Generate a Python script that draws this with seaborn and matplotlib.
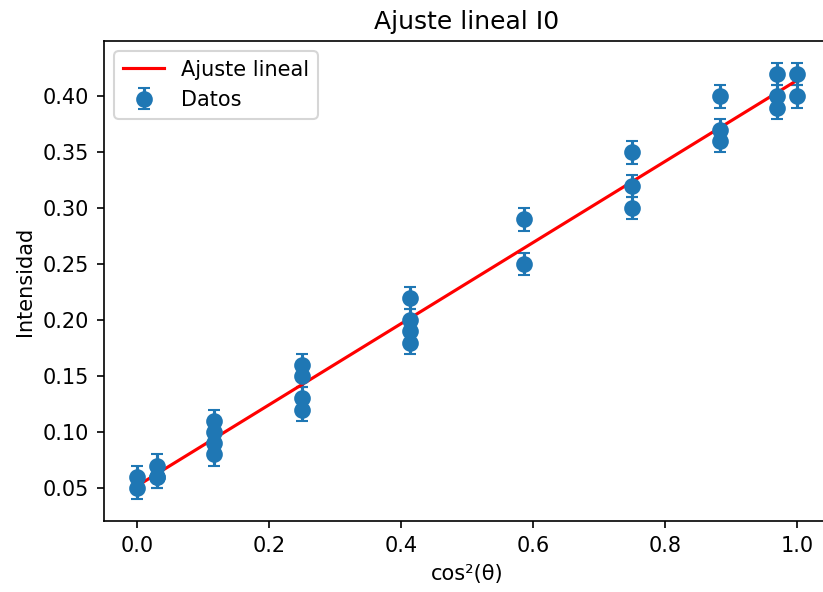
import matplotlib.pyplot as plt
import seaborn as sns
import numpy as np

# cos^2(theta) for each measurement and its intensity
cos2 = [0.0, 0.0, 0.0302, 0.0302, 0.0302,
        0.117, 0.117, 0.117, 0.117,
        0.25, 0.25, 0.25, 0.25,
        0.413, 0.413, 0.413, 0.413,
        0.587, 0.587,
        0.75, 0.75, 0.75,
        0.883, 0.883, 0.883,
        0.970, 0.970, 0.970,
        1.0, 1.0]
intensidad = [0.05, 0.06, 0.06, 0.07, 0.06,
              0.08, 0.09, 0.10, 0.11,
              0.12, 0.13, 0.15, 0.16,
              0.18, 0.19, 0.20, 0.22,
              0.25, 0.29,
              0.30, 0.32, 0.35,
              0.36, 0.37, 0.40,
              0.39, 0.40, 0.42,
              0.40, 0.42]
err = [0.01] * len(intensidad)

x = np.array(cos2)
y = np.array(intensidad)
m, b = np.polyfit(x, y, 1)  # linear fit
xfit = np.linspace(x.min(), x.max(), 50)

dpi = 150
fig, ax = plt.subplots(figsize=(823 / dpi, 592 / dpi), dpi=dpi)
# original is cropped on the right, so the axes run past the figure edge
fig.subplots_adjust(left=0.1264, right=1.0085, top=0.9307, bottom=0.12)

ax.errorbar(x, y, yerr=err, fmt='o', color='#1f77b4', capsize=3, markersize=7, label='Datos')
sns.lineplot(x=xfit, y=m * xfit + b, color='red', ax=ax, label='Ajuste lineal')

ax.set_xlabel('cos²(θ)')
ax.set_ylabel('Intensidad')
ax.set_title('Ajuste lineal I0')
ax.legend(loc='upper left')

fig.savefig('out.png', dpi=dpi)
